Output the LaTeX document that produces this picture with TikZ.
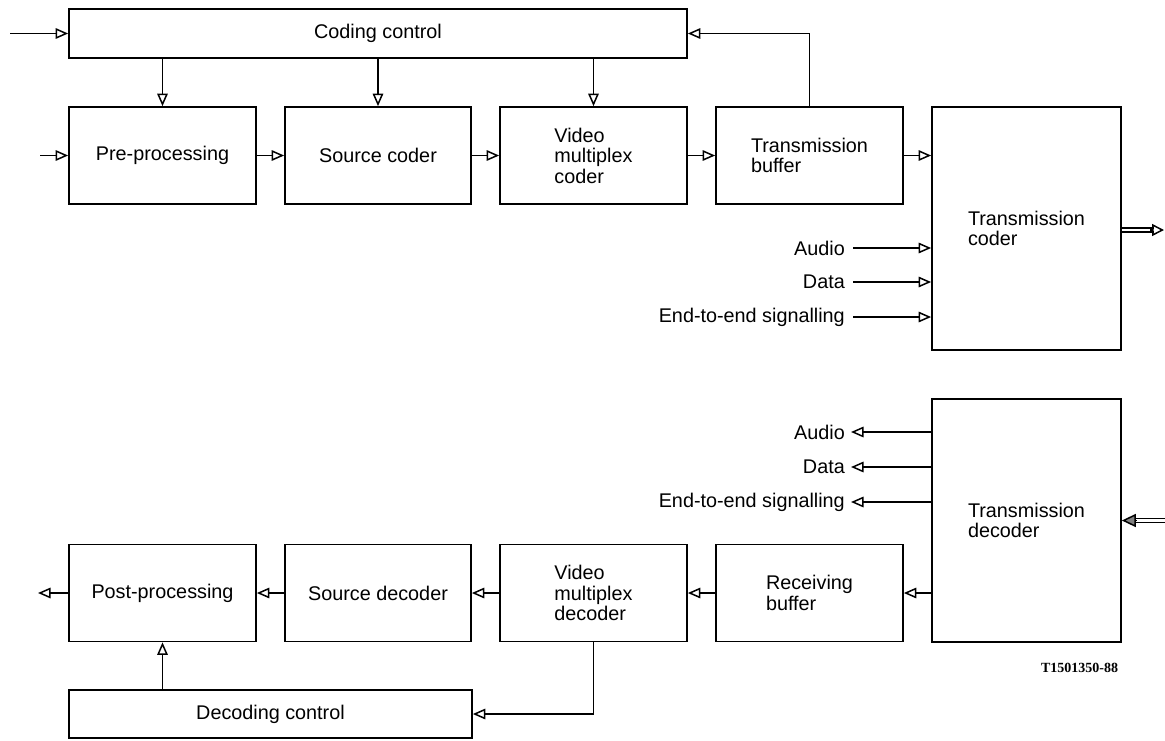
\documentclass[tikz,border=0pt]{standalone}
\usepackage{fontspec}
\setmainfont{Liberation Sans}
\newfontfamily\tagfont{Liberation Serif}
\usetikzlibrary{arrows.meta,calc}
\begin{document}
\begin{tikzpicture}[x=1pt,y=-1pt,
  font=\fontsize{19.8}{20.5}\selectfont,
  blk/.style={draw, line width=1.7pt, inner sep=0pt, align=left},
  wide/.style={blk, minimum width=187pt, minimum height=97pt},
  tall/.style={blk, minimum width=189pt, minimum height=243pt},
  ctrl/.style={blk, minimum height=49pt, align=center},
  arr/.style={line width=1.4pt, -{Triangle[open, length=12.5pt, width=10.5pt, line width=1.5pt]}},
  sig/.style={inner sep=0pt, anchor=east},
  dbl/.style={double, double distance=2.8pt, line width=1.2pt}
]
\useasboundingbox (0,0) rectangle (1165,740);
\fill[white] (0,0) rectangle (1165,740);

% ---------- coder side ----------
\node[ctrl, minimum width=618pt] (cc) at (378,33.5) {Coding control};
\node[wide] (pre) at (162.5,155.5) {Pre-processing};
\node[wide, minimum width=186pt] (src) at (378,155.5) {Source coder};
\node[wide] (vmc) at (593.5,155.5) {Video\\multiplex\\coder};
\node[wide] (tb) at (809.5,155.5) {Transmission\\buffer};
\node[tall] (tc) at (1026.5,228.5) {Transmission\\coder};

\coordinate (inCC) at (10,33.5);
\coordinate (inPre) at (40,155.5);
\draw[arr] (inCC) -- (cc.west);
\draw[arr] (inPre) -- (pre.west);
\draw[arr] (pre.north |- cc.south) -- (pre.north);
\draw[arr] (src.north |- cc.south) -- (src.north);
\draw[arr] (vmc.north |- cc.south) -- (vmc.north);
\draw[arr] (pre.east) -- (src.west);
\draw[arr] (src.east) -- (vmc.west);
\draw[arr] (vmc.east) -- (tb.west);
\draw[arr] (tb.east) -- (tb.east -| tc.west);
\draw[arr] (tb.north) |- (cc.east);

\node[sig] (aud1) at (845,248) {Audio};
\node[sig] (dat1) at (845,282) {Data};
\node[sig] (ete1) at (845,317) {End-to-end signalling};
\draw[arr] ([xshift=8pt]aud1.east) -- (aud1.east -| tc.west);
\draw[arr] ([xshift=8pt]dat1.east) -- (dat1.east -| tc.west);
\draw[arr] ([xshift=8pt]ete1.east) -- (ete1.east -| tc.west);

\coordinate (out) at (1164,230);
\draw[dbl, shorten >=10pt] (tc.east |- out) -- (out);
\draw[line width=1.4pt, -{Triangle[open, length=12pt, width=12pt, line width=1.5pt]}] ($(out)+(-14,0)$) -- (out);

% ---------- decoder side ----------
\node[tall] (td) at (1026.5,520.5) {Transmission\\decoder};
\node[wide] (rb) at (809.5,593) {Receiving\\buffer};
\node[wide] (vmd) at (593.5,593) {Video\\multiplex\\decoder};
\node[wide, minimum width=186pt] (sd) at (378,593) {Source decoder};
\node[wide] (pp) at (162.5,593) {Post-processing};
\node[ctrl, minimum width=403pt, minimum height=48pt] (dc) at (270.5,714) {Decoding control};

\node[sig] (aud2) at (845,432) {Audio};
\node[sig] (dat2) at (845,467) {Data};
\node[sig] (ete2) at (845,502) {End-to-end signalling};
\draw[arr] (aud2.east -| td.west) -- ([xshift=6pt]aud2.east);
\draw[arr] (dat2.east -| td.west) -- ([xshift=6pt]dat2.east);
\draw[arr] (ete2.east -| td.west) -- ([xshift=6pt]ete2.east);

\coordinate (in2) at (1165,520.5);
\draw[dbl, shorten >=12pt] (in2) -- (td.east);
\draw[line width=1.4pt, -{Triangle[fill=gray, length=14pt, width=13pt, line width=1.5pt]}] ($(td.east)+(15,0)$) -- (td.east);

\draw[arr] (td.west |- rb.east) -- (rb.east);
\draw[arr] (rb.west) -- (vmd.east);
\draw[arr] (vmd.west) -- (sd.east);
\draw[arr] (sd.west) -- (pp.east);
\coordinate (outPP) at (38,593);
\draw[arr] (pp.west) -- (outPP);
\draw[arr] (vmd.south) |- (dc.east);
\draw[arr] (pp.south |- dc.north) -- (pp.south);

\node[font=\tagfont\bfseries\fontsize{14}{14}\selectfont, inner sep=0pt] (tag) at (1079.5,668) {T1501350-88};
\end{tikzpicture}
\end{document}
